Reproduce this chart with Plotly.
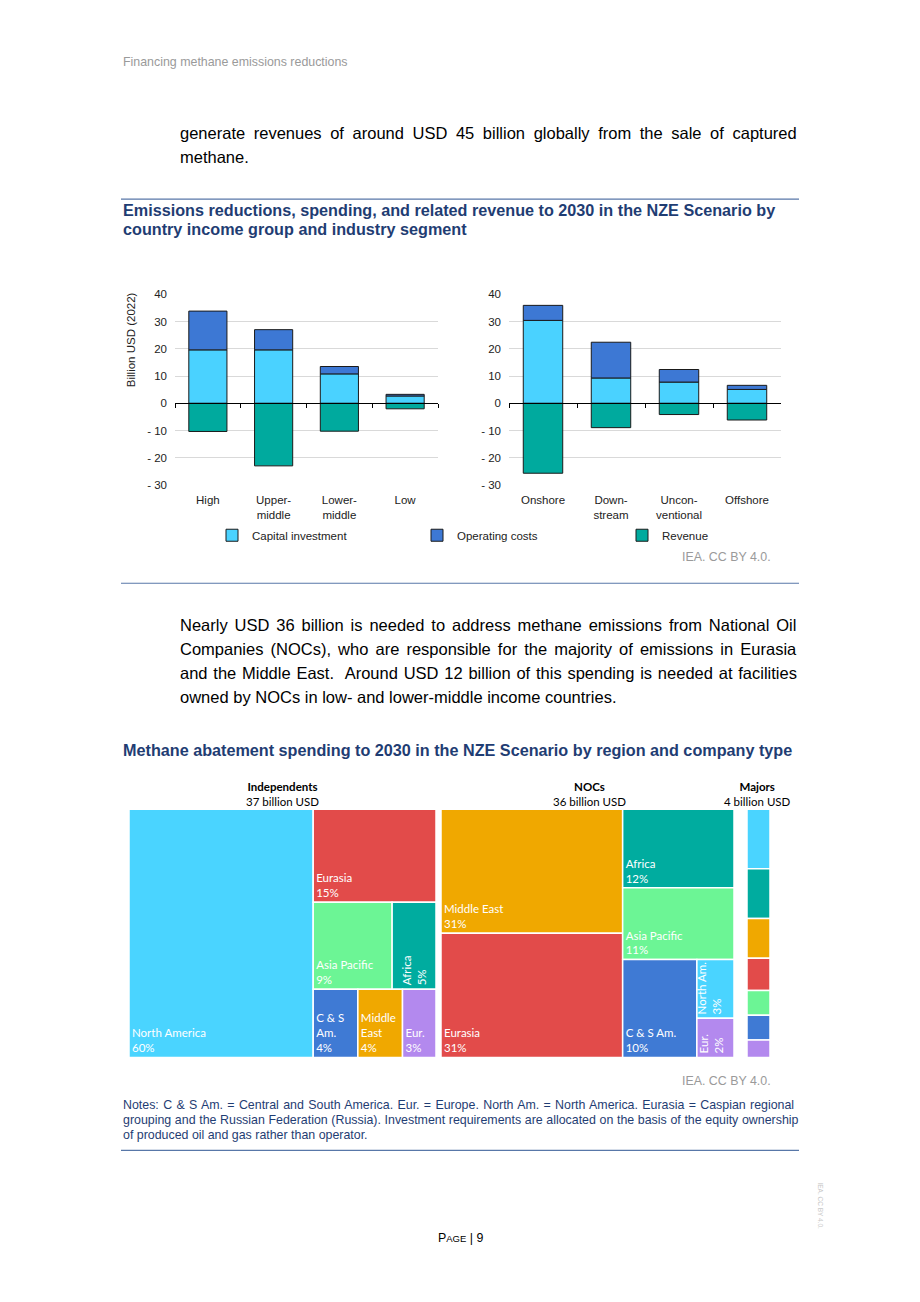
import plotly.graph_objects as go

W, H = 920, 1302
# page-pixel -> paper fraction (compensates the page offset seen in the rendered output)
def P(px): return (px - 8) / W
def Q(py): return 1 - ((py - 13.9) / 0.9905) / H

# ---------------- data: bar charts ----------------
income_groups = ["High", "Upper-<br>middle", "Lower-<br>middle", "Low"]
income_capex = [19.6, 19.6, 10.8, 2.7]
income_opex = [14.2, 7.4, 2.7, 0.6]
income_revenue = [-10.3, -22.9, -10.2, -2.0]

segments = ["Onshore", "Down-<br>stream", "Uncon-<br>ventional", "Offshore"]
segment_capex = [30.4, 9.3, 7.8, 5.1]
segment_opex = [5.5, 13.1, 4.6, 1.5]
segment_revenue = [-25.6, -8.9, -4.1, -6.1]

y_tickvals = [-30, -20, -10, 0, 10, 20, 30, 40]
y_ticktext = ["- 30", "- 20", "- 10", "0", "10", "20", "30", "40"]
series_names = ["Capital investment", "Operating costs", "Revenue"]

# ---------------- data: treemaps ----------------
indep_labels = ["North America", "Eurasia", "Asia Pacific", "Africa", "C & S<br>Am.", "Middle<br>East", "Eur."]
indep_regions = ["NA", "EUA", "AP", "AF", "CS", "ME", "EU"]
indep_values = [60, 15, 9, 5, 4, 4, 3]

noc_labels = ["Middle East", "Eurasia", "Africa", "Asia Pacific", "C & S Am.", "North Am.", "Eur."]
noc_regions = ["ME", "EUA", "AF", "AP", "CS", "NA", "EU"]
noc_values = [31, 31, 12, 11, 10, 3, 2]

major_labels = ["North America", "Africa", "Middle East", "Eurasia", "Asia Pacific", "C & S Am.", "Eur."]
major_regions = ["NA", "AF", "ME", "EUA", "AP", "CS", "EU"]
major_values = [24, 20, 16, 13, 10, 10, 7]

group_titles = ["Independents", "NOCs", "Majors"]
group_totals = ["37 billion USD", "36 billion USD", "4 billion USD"]

# ---------------- styles ----------------
C_CAPEX, C_OPEX, C_REV = "#4AD2FF", "#3D78D4", "#00AA9E"
REGION_COLORS = {"NA": "#4AD4FF", "EUA": "#E24B4A", "AP": "#6CF595", "AF": "#00AC9F",
                 "CS": "#3F7AD4", "ME": "#F0A800", "EU": "#B389EE"}
BLUE_TXT = "#1F3D73"
RULE = "#5877A8"
ARIAL = "Liberation Sans"
CALIBRI = "Lato"

fig = go.Figure()

def add_bars(cats, capex, opex, rev, xa, ya, show):
    for name, vals, col in zip(series_names, [capex, opex, rev], [C_CAPEX, C_OPEX, C_REV]):
        fig.add_trace(go.Bar(x=cats, y=vals, name=name, marker_color=col,
                             marker_line_color="#1a1a1a", marker_line_width=1,
                             xaxis=xa, yaxis=ya, showlegend=show, legendgroup=name,
                             hoverinfo="skip"))

add_bars(income_groups, income_capex, income_opex, income_revenue, "x", "y", True)
add_bars(segments, segment_capex, segment_opex, segment_revenue, "x2", "y2", False)
# helper traces to carry the zero-line axes
fig.add_trace(go.Scatter(x=income_groups, y=[0] * 4, mode="none", xaxis="x3", yaxis="y", showlegend=False, hoverinfo="skip"))
fig.add_trace(go.Scatter(x=segments, y=[0] * 4, mode="none", xaxis="x4", yaxis="y2", showlegend=False, hoverinfo="skip"))

y_lo, y_hi = -30, 40
ydom = [Q(485), Q(294)]
zero_pos = ydom[0] + (0 - y_lo) / (y_hi - y_lo) * (ydom[1] - ydom[0])
cat_range = [-0.5, len(income_groups) - 0.5]

tickfont = dict(family=ARIAL, size=11.5, color="#222")
common_x = dict(type="category", range=cat_range, showgrid=False, ticks="", showline=False,
                tickfont=tickfont, ticklabelstandoff=6)
common_y = dict(range=[y_lo, y_hi], tickvals=y_tickvals, ticktext=y_ticktext, showgrid=True,
                gridcolor="#D9D9D9", gridwidth=1, zeroline=False, showline=False, tickfont=tickfont,
                ticks="", ticklabelstandoff=7)
zero_axis = dict(type="category", range=cat_range, anchor="free", position=zero_pos, showline=True,
                 linecolor="black", linewidth=1, ticks="outside", ticklen=4, tickcolor="black",
                 tickson="boundaries", showticklabels=False, showgrid=False)

fig.update_layout(
    xaxis=dict(domain=[P(175), P(438)], anchor="y", categoryarray=income_groups, **common_x),
    xaxis2=dict(domain=[P(509), P(781)], anchor="y2", categoryarray=segments, **common_x),
    xaxis3=dict(overlaying="x", categoryarray=income_groups, **zero_axis),
    xaxis4=dict(overlaying="x2", categoryarray=segments, **zero_axis),
    yaxis=dict(domain=ydom, anchor="x", **common_y),
    yaxis2=dict(domain=ydom, anchor="x2", **common_y),
    barmode="relative", bargap=0.42,
)

# ---------------- treemaps ----------------
def add_tree(labels, regions, values, x0, x1, texttemplates):
    fig.add_trace(go.Treemap(
        labels=labels, parents=[""] * len(labels), values=values, sort=False,
        marker=dict(colors=[REGION_COLORS[r] for r in regions], line=dict(color="white", width=1.5),
                    pad=dict(t=0, b=0, l=0, r=0)),
        texttemplate=texttemplates, textposition="bottom left",
        textfont=dict(family=CALIBRI, size=11.5, color="white"),
        tiling=dict(packing="squarify", squarifyratio=1, pad=0),
        pathbar=dict(visible=False), hoverinfo="skip",
        domain=dict(x=[P(x0), P(x1)], y=[Q(1057), Q(809)])))

tt = "%{label}<br>%{value}%"
add_tree(indep_labels, indep_regions, indep_values, 129, 436,
         [tt, tt, tt, "", tt, tt, tt])
add_tree(noc_labels, noc_regions, noc_values, 441, 734,
         [tt, tt, tt, tt, tt, "", ""])
add_tree(major_labels, major_regions, major_values, 747, 770, [""] * 7)

# ---------------- page text ----------------
anns = []
def ann(text, x, y, size, color="#000", family=ARIAL, xanchor="left", yanchor="middle", angle=0, align="left"):
    anns.append(dict(text=text, x=P(x), y=Q(y), xref="paper", yref="paper", showarrow=False,
                     xanchor=xanchor, yanchor=yanchor, textangle=angle, align=align,
                     font=dict(family=family, size=size, color=color)))

def ws(text, px):
    return "<span style='word-spacing:%.1fpx'>%s</span>" % (px, text)

ann("Financing methane emissions reductions", 121, 62, 12.4, "#9A9A9A")
ann(ws("generate revenues of around USD 45 billion globally from the sale of captured", 4.0), 178, 133, 16.5)
ann("methane.", 178, 157, 16.5)
ann("<b>Emissions reductions, spending, and related revenue to 2030 in the NZE Scenario by</b>", 121, 210, 16.2, BLUE_TXT)
ann("<b>country income group and industry segment</b>", 121, 229, 16.2, BLUE_TXT)
ann("Billion USD (2022)", 131, 340, 11.5, "#222", xanchor="center", angle=-90)
ann("IEA. CC BY 4.0.", 773, 557, 12.4, "#9A9A9A", xanchor="right")

para = ["Nearly USD 36 billion is needed to address methane emissions from National Oil",
        "Companies (NOCs), who are responsible for the majority of emissions in Eurasia",
        "and the Middle East.  Around USD 12 billion of this spending is needed at facilities",
        "owned by NOCs in low- and lower-middle income countries."]
para_ws = [2.3, 2.5, 1.2, 0]
for i, (line, s) in enumerate(zip(para, para_ws)):
    ann(ws(line, s) if s else line, 178, 625 + 24 * i, 16.5)

ann("<b>Methane abatement spending to 2030 in the NZE Scenario by region and company type</b>", 121, 750, 16.2, BLUE_TXT)

for t, tot, cx in zip(group_titles, group_totals, [282, 589, 757]):
    ann("<b>%s</b><br>%s" % (t, tot), cx, 794, 11.5, "#000", family=CALIBRI, xanchor="center", align="center")

# rotated labels for narrow cells
ann("Africa<br>5%", 414, 970, 11.5, "white", family=CALIBRI, xanchor="center", angle=-90)
ann("North Am.<br>3%", 709, 988, 11.5, "white", family=CALIBRI, xanchor="center", angle=-90)
ann("Eur.<br>2%", 711, 1043, 11.5, "white", family=CALIBRI, xanchor="center", angle=-90)

ann("IEA. CC BY 4.0.", 773, 1081, 12.4, "#9A9A9A", xanchor="right")
notes = ["Notes: C & S Am. = Central and South America. Eur. = Europe. North Am. = North America. Eurasia = Caspian regional",
         "grouping and the Russian Federation (Russia). Investment requirements are allocated on the basis of the equity ownership",
         "of produced oil and gas rather than operator."]
notes_ws = [0.9, 0.2, 0]
for i, (line, s) in enumerate(zip(notes, notes_ws)):
    ann(ws(line, s) if s else line, 121, 1105 + 14.7 * i, 12.4, BLUE_TXT)

ann("P<span style='font-size:9.5px'>AGE</span> | 9", 460, 1238, 12.4, "#000", xanchor="center")
ann("IEA. CC BY 4.0.", 821, 1205, 6.5, "#C8C8C8", xanchor="center", angle=90)

shapes = []
for yy in [199, 583, 1150]:
    shapes.append(dict(type="line", xref="paper", yref="paper", x0=P(121), x1=P(799), y0=Q(yy), y1=Q(yy),
                       line=dict(color=RULE, width=1.2)))

fig.update_layout(
    width=W, height=H, margin=dict(l=0, r=0, t=0, b=0),
    paper_bgcolor="white", plot_bgcolor="white",
    annotations=anns, shapes=shapes,
    showlegend=True,
    legend=dict(orientation="h", x=P(212), y=Q(535), xanchor="left", yanchor="middle",
                font=dict(family=ARIAL, size=11.5, color="#222"), entrywidth=160, entrywidthmode="pixels",
                itemwidth=30, traceorder="normal", bgcolor="rgba(0,0,0,0)"),
)

fig.write_html("out.html")
